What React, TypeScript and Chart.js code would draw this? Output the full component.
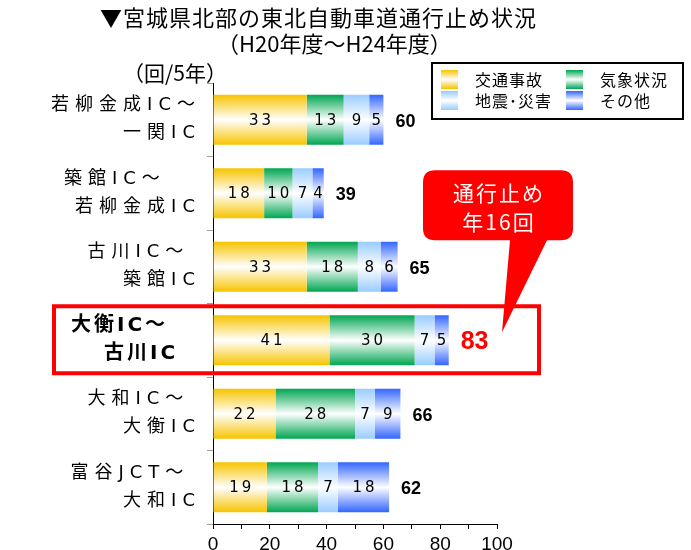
import React, { useEffect, useRef } from "react";
import { Chart, registerables } from "chart.js";

Chart.register(...registerables);

// ---------- data ----------
const titleLines = ["▼宮城県北部の東北自動車道通行止め状況", "（H20年度～H24年度）"];
const unitLabel = "（回/5年）";
const routeLines: string[][] = [
  ["若柳金成IC～", "一関IC"],
  ["築館IC～   ", "若柳金成IC"],
  ["古川IC～ ", "築館IC"],
  ["大衡IC～   ", "古川IC  "],
  ["大和IC～ ", "大衡IC"],
  ["富谷JCT～ ", "大和IC"],
];
const seriesNames = ["交通事故", "気象状況", "地震･災害", "その他"];
const accidents = [33, 18, 33, 41, 22, 19];
const weather = [13, 10, 18, 30, 28, 18];
const disasters = [9, 7, 8, 7, 7, 7];
const others = [5, 4, 6, 5, 9, 18];
const totals = [60, 39, 65, 83, 66, 62];
const highlightIndex = 3;
const calloutLines = ["通行止め", "年16回"];
const xMin = 0;
const xMax = 100;
const xStep = 10;
const xLabelEvery = 20;

// ---------- style ----------
const seriesColors = ["#F6C400", "#00A651", "#99CCFF", "#3366FF"];
const BAR_PCT = 0.68;
const CJK = "'Noto Sans CJK JP', sans-serif";
const WIDE = "'DejaVu Sans', 'Noto Sans CJK JP', sans-serif";
const LATIN = "'Liberation Sans', Arial, sans-serif";

function makeGradient(ctx: CanvasRenderingContext2D, top: number, bottom: number, color: string) {
  const g = ctx.createLinearGradient(0, top, 0, bottom);
  g.addColorStop(0, color);
  g.addColorStop(0.5, "#FFFFFF");
  g.addColorStop(1, color);
  return g;
}

const decorPlugin = {
  id: "decor",
  afterDraw(chart: any) {
    const ctx: CanvasRenderingContext2D = chart.ctx;
    const xs = chart.scales.x;
    const ys = chart.scales.y;
    const area = chart.chartArea;
    ctx.save();

    // segment labels
    ctx.fillStyle = "#000";
    ctx.font = `15px 'DejaVu Sans', sans-serif`;
    (ctx as any).letterSpacing = "3px";
    ctx.textAlign = "center";
    ctx.textBaseline = "middle";
    chart.data.datasets.forEach((ds: any, di: number) => {
      const meta = chart.getDatasetMeta(di);
      meta.data.forEach((el: any, i: number) => {
        const v = ds.data[i];
        const cx = (el.x + el.base) / 2 + 1.5;
        ctx.fillText(String(v), cx, el.y + 1);
      });
    });

    // totals
    (ctx as any).letterSpacing = "0px";
    ctx.textAlign = "left";
    totals.forEach((t, i) => {
      const x = xs.getPixelForValue(t) + 12;
      const y = ys.getPixelForValue(i) + 2;
      if (i === highlightIndex) {
        ctx.fillStyle = "#FF0000";
        ctx.font = `bold 25px ${LATIN}`;
      } else {
        ctx.fillStyle = "#000";
        ctx.font = `bold 18px ${LATIN}`;
      }
      ctx.fillText(String(t), x, y);
    });

    // category labels
    ctx.textAlign = "right";
    ctx.fillStyle = "#000";
    routeLines.forEach((lines, i) => {
      const yc = ys.getPixelForValue(i);
      const bold = i === highlightIndex;
      ctx.font = bold ? `bold 20px ${WIDE}` : `18px ${WIDE}`;
      (ctx as any).letterSpacing = bold ? "3px" : "6px";
      const rx = area.left - (bold ? 15 : 12);
      ctx.fillText(lines[0], rx, yc - 14);
      ctx.fillText(lines[1], rx, yc + 14);
    });
    (ctx as any).letterSpacing = "0px";

    // highlight rectangle
    const hy = ys.getPixelForValue(highlightIndex);
    ctx.strokeStyle = "#FF0000";
    ctx.lineWidth = 4;
    ctx.strokeRect(area.left - 159, hy - 34, xs.getPixelForValue(xMax) + 42 - (area.left - 159), 67);

    // callout
    const tipX = xs.getPixelForValue(xMax) + 5;
    const tipY = hy - 8;
    const bx = tipX - 79, by = tipY - 162, bw = 150, bh = 70, r = 12;
    ctx.fillStyle = "#FF0000";
    ctx.beginPath();
    ctx.moveTo(bx + r, by);
    ctx.lineTo(bx + bw - r, by);
    ctx.quadraticCurveTo(bx + bw, by, bx + bw, by + r);
    ctx.lineTo(bx + bw, by + bh - r);
    ctx.quadraticCurveTo(bx + bw, by + bh, bx + bw - r, by + bh);
    ctx.lineTo(tipX + 45, by + bh);
    ctx.lineTo(tipX, tipY);
    ctx.lineTo(tipX + 8, by + bh);
    ctx.lineTo(bx + r, by + bh);
    ctx.quadraticCurveTo(bx, by + bh, bx, by + bh - r);
    ctx.lineTo(bx, by + r);
    ctx.quadraticCurveTo(bx, by, bx + r, by);
    ctx.closePath();
    ctx.fill();
    ctx.fillStyle = "#FFFFFF";
    ctx.font = `21px ${CJK}`;
    (ctx as any).letterSpacing = "2px";
    ctx.textAlign = "center";
    ctx.fillText(calloutLines[0], bx + bw / 2 + 1, by + 23);
    ctx.fillText(calloutLines[1], bx + bw / 2 + 1, by + 52);
    (ctx as any).letterSpacing = "0px";

    // titles
    ctx.fillStyle = "#000";
    ctx.textAlign = "left";
    ctx.font = `22px ${CJK}`;
    (ctx as any).letterSpacing = "1px";
    ctx.fillText(titleLines[0], 100, 18);
    (ctx as any).letterSpacing = "0px";
    ctx.font = `22px ${CJK}`;
    ctx.fillText(titleLines[1], 217, 44);
    ctx.font = `21px ${CJK}`;
    ctx.fillText(unitLabel, 123, 73);

    // legend
    const lx = 432, ly = 63, lw = 251, lh = 56;
    ctx.strokeStyle = "#000";
    ctx.lineWidth = 2;
    ctx.strokeRect(lx, ly, lw, lh);
    ctx.font = `16px ${CJK}`;
    (ctx as any).letterSpacing = "1px";
    seriesNames.forEach((name, k) => {
      const col = k % 2;
      const row = Math.floor(k / 2);
      const sx = lx + 9 + col * 125;
      const sy = ly + 7 + row * 21;
      ctx.fillStyle = makeGradient(ctx, sy, sy + 19, seriesColors[k]);
      ctx.fillRect(sx, sy, 17, 19);
      ctx.fillStyle = "#000";
      ctx.fillText(name, sx + 34, sy + 10);
    });
    (ctx as any).letterSpacing = "0px";

    ctx.restore();
  },
};

export default function App() {
  const ref = useRef<HTMLCanvasElement>(null);
  useEffect(() => {
    if (!ref.current) return;
    const seriesData = [accidents, weather, disasters, others];
    const chart = new Chart(ref.current, {
      type: "bar",
      data: {
        labels: routeLines.map((l) => l.join("").trim()),
        datasets: seriesData.map((d, k) => ({
          label: seriesNames[k],
          data: d,
          borderWidth: 0,
          barPercentage: BAR_PCT,
          categoryPercentage: 1,
          backgroundColor: (c: any) => {
            const ch = c.chart;
            const ys = ch.scales && ch.scales.y;
            if (!ys || !ch.chartArea || c.dataIndex === undefined) return seriesColors[k];
            const yc = ys.getPixelForValue(c.dataIndex);
            const h = (ys.height / routeLines.length) * BAR_PCT;
            return makeGradient(ch.ctx, yc - h / 2, yc + h / 2, seriesColors[k]);
          },
        })),
      },
      options: {
        indexAxis: "y",
        animation: false,
        responsive: true,
        maintainAspectRatio: false,
        events: [],
        layout: { padding: { top: 83, right: 194, left: 0, bottom: 0 } },
        plugins: { legend: { display: false }, tooltip: { enabled: false }, title: { display: false } },
        scales: {
          x: {
            stacked: true,
            min: xMin,
            max: xMax,
            afterFit: (s: any) => {
              s.height = 26;
            },
            grid: { drawOnChartArea: false, drawTicks: true, tickLength: 5, color: "#000" },
            border: { color: "#000", width: 1 },
            ticks: {
              stepSize: xStep,
              autoSkip: false,
              maxRotation: 0,
              padding: 4,
              color: "#000",
              font: { family: LATIN, size: 19 },
              callback: (v: any) => (Number(v) % xLabelEvery === 0 ? String(v) : ""),
            },
          },
          y: {
            stacked: true,
            afterFit: (s: any) => {
              s.width = 213;
            },
            grid: { drawOnChartArea: false, drawTicks: true, tickLength: 6, color: "#A0A0A0" },
            border: { color: "#000", width: 1 },
            ticks: { display: false },
          },
        },
      },
      plugins: [decorPlugin],
    });
    return () => chart.destroy();
  }, []);
  return (
    <div style={{ position: "fixed", left: 0, top: 0, width: 691, height: 550, background: "#fff" }}>
      <canvas ref={ref} />
    </div>
  );
}
